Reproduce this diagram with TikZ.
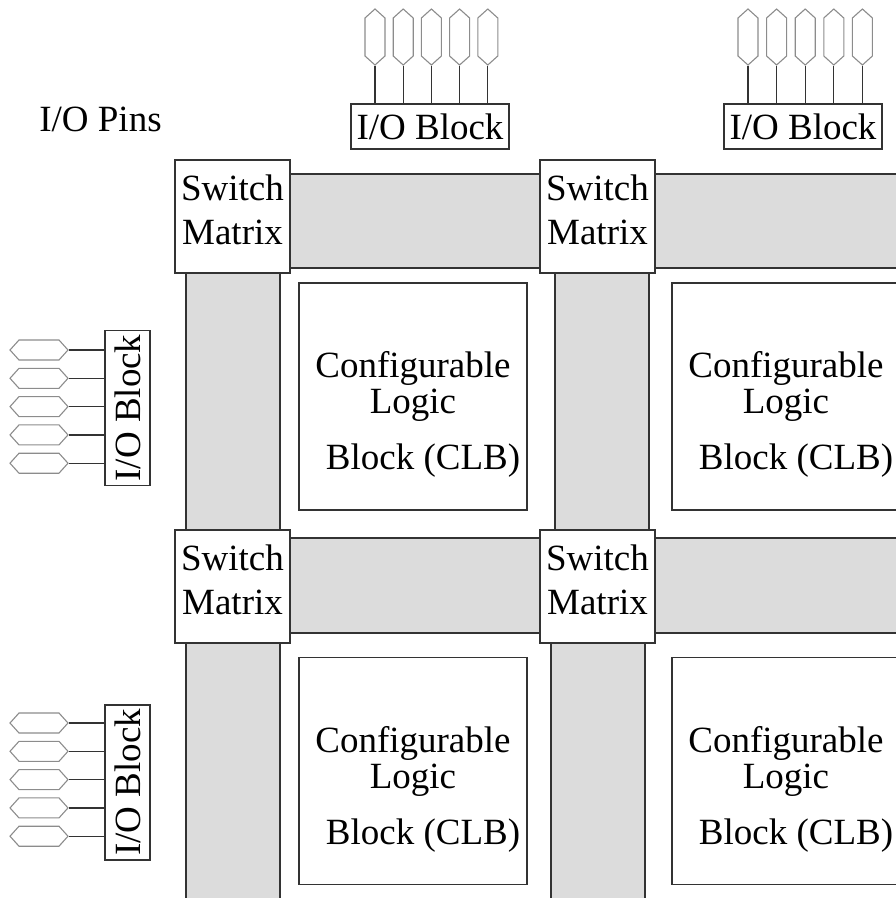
\documentclass[tikz,border=0pt]{standalone}
\usepackage{fontspec}
\setmainfont{Liberation Serif}
\usetikzlibrary{positioning,shapes.symbols}
\definecolor{chan}{HTML}{DCDCDC}
\definecolor{edge}{HTML}{333333}
\definecolor{pinc}{HTML}{8C8C8C}

\begin{document}
\begin{tikzpicture}[x=1pt, y=-1pt,
  lbl/.style={font=\fontsize{37}{42}\selectfont, text=black},
  box/.style={rectangle, draw=edge, line width=1.3pt, fill=white, inner sep=0pt, lbl},
  sw/.style={box, minimum width=115pt, minimum height=113pt, align=center},
  clb/.style={box, minimum width=228pt, minimum height=227pt, align=center},
  iob/.style={box, minimum width=158pt, minimum height=45pt},
  chanbar/.style={draw=edge, line width=1.3pt, fill=chan},
  pinv/.style={signal, signal to=north and south, signal pointer angle=96,
               draw=pinc, line width=1.1pt, minimum width=20pt, minimum height=38pt, inner sep=0pt},
  pinh/.style={signal, signal to=east and west, signal pointer angle=96,
               draw=pinc, line width=1.1pt, minimum width=58pt, minimum height=20pt, inner sep=0pt},
  lead/.style={draw=edge, line width=1.3pt}
]
\useasboundingbox (0,0) rectangle (896,898);
\clip (0,0) rectangle (896,898);

% --- routing channels (under everything) ---
\draw[chanbar] (280,174) rectangle (555,268);
\draw[chanbar] (640,174) rectangle (910,268);
\draw[chanbar] (280,538) rectangle (555,633);
\draw[chanbar] (640,538) rectangle (910,633);
\draw[chanbar] (186,260) rectangle (280,540);
\draw[chanbar] (186,630) rectangle (280,910);
\draw[chanbar] (555,260) rectangle (649,540);
\draw[chanbar] (551,630) rectangle (645,910);

% --- logic blocks ---
\foreach \r/\y in {1/396.5, 2/771}
  \foreach \c/\x in {1/413, 2/786}
    \node[clb] (clb\r\c) at (\x,\y)
      {\rule{0pt}{62pt}Configurable\\[-6pt]Logic\hspace*{16pt}\\[14pt]\hspace*{20pt}Block (CLB)};

% --- switch matrices ---
\foreach \r/\y in {1/216.5, 2/586.5}
  \foreach \c/\x in {1/232.5, 2/597.5}
    \node[sw] (sm\r\c) at (\x,\y) {Switch\\[2pt]Matrix\rule[-14pt]{0pt}{14pt}};

% --- I/O blocks ---
\node[iob] (ioa) at (430,126.5) {I/O Block};
\node[iob] (iob) at (803,126.5) {I/O Block};
\node[iob, minimum width=155pt, rotate=90] (ioc) at (127.5,408) {I/O Block};
\node[iob, minimum width=155pt, rotate=90] (iod) at (127.5,782.5) {I/O Block};

\node[lbl] (pins) at (100.5,119.5) {I/O Pins};

% --- pins and their leads ---
\foreach \i in {0,...,4} {
  \node[pinv] (pa\i) at (375+28.2*\i,37) {};
  \draw[lead] (pa\i.south) -- (pa\i.south |- ioa.north);
  \node[pinv] (pb\i) at (748+28.6*\i,37) {};
  \draw[lead] (pb\i.south) -- (pb\i.south |- iob.north);
  \node[pinh] (pc\i) at (39,350+28.3*\i) {};
  \draw[lead] (pc\i.east) -- (pc\i.east -| ioc.north);
  \node[pinh] (pd\i) at (39,723+28.3*\i) {};
  \draw[lead] (pd\i.east) -- (pd\i.east -| iod.north);
}

\end{tikzpicture}
\end{document}
